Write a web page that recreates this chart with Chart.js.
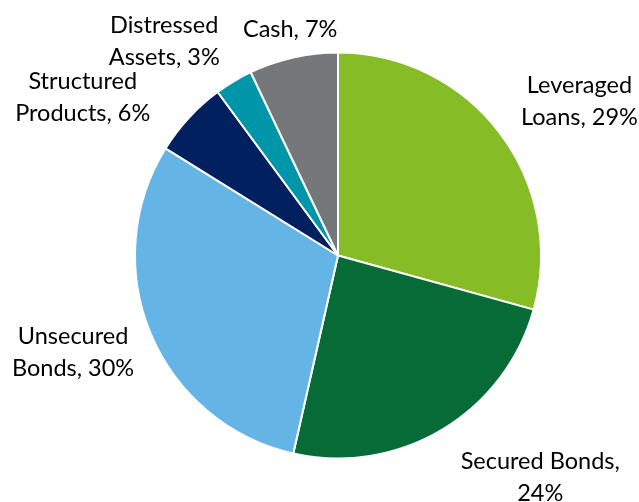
<!DOCTYPE html>
<html>
<head>
<meta charset="utf-8">
<script src="https://cdn.jsdelivr.net/npm/chart.js@4"></script>
<style>
  html, body { margin: 0; padding: 0; background: #fff; }
  #wrap { width: 639px; height: 502px; position: relative; }
</style>
</head>
<body>
<div id="wrap"><canvas id="pie"></canvas></div>
<script>
// データ
const categories = ['Leveraged Loans', 'Secured Bonds', 'Unsecured Bonds', 'Structured Products', 'Distressed Assets', 'Cash'];
const shares = [29, 24, 30, 6, 3, 7];
// ラベルの改行
const labelLines = [
  ['Leveraged', 'Loans, 29%'],
  ['Secured Bonds,', '24%'],
  ['Unsecured', 'Bonds, 30%'],
  ['Structured', 'Products, 6%'],
  ['Distressed', 'Assets, 3%'],
  ['Cash, 7%']
];
const colors = ['#86BC25', '#076B38', '#64B5E5', '#00205F', '#0096A9', '#75787B'];

// ラベル位置（半径の倍率と角度の補正、度）
const labelDist = [1.41, 1.48, 1.39, 1.48, 1.36, 1.14];
const labelTurn = [4.8, -11.4, 2.6, -10.9, -8.1, 0.8];

const outsideLabels = {
  id: 'outsideLabels',
  afterDatasetsDraw(chart) {
    const ctx = chart.ctx;
    const meta = chart.getDatasetMeta(0);
    ctx.save();
    ctx.font = '23.5px Lato';
    ctx.fillStyle = '#000';
    ctx.textAlign = 'center';
    ctx.textBaseline = 'middle';
    meta.data.forEach((arc, i) => {
      const p = arc.getProps(['x', 'y', 'startAngle', 'endAngle', 'outerRadius'], true);
      const mid = (p.startAngle + p.endAngle) / 2 + labelTurn[i] * Math.PI / 180;
      const r = p.outerRadius * labelDist[i];
      const cx = p.x + Math.cos(mid) * r;
      const cy = p.y + Math.sin(mid) * r;
      const lines = labelLines[i];
      const lh = 32;
      lines.forEach((t, k) => {
        ctx.fillText(t, cx, cy + (k - (lines.length - 1) / 2) * lh);
      });
    });
    ctx.restore();
  }
};

new Chart(document.getElementById('pie'), {
  type: 'pie',
  data: {
    labels: categories,
    datasets: [{
      data: shares,
      backgroundColor: colors,
      borderColor: '#ffffff',
      borderWidth: 2
    }]
  },
  options: {
    responsive: true,
    maintainAspectRatio: false,
    animation: false,
    layout: {
      padding: { top: 51, bottom: 42, left: 134, right: 97 }
    },
    plugins: {
      legend: { display: false },
      tooltip: { enabled: false }
    }
  },
  plugins: [outsideLabels]
});
</script>
</body>
</html>
